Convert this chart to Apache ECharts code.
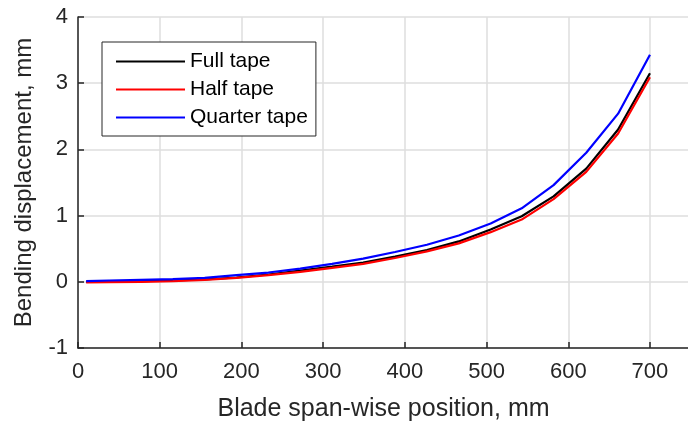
<!DOCTYPE html>
<html>
<head>
<meta charset="utf-8">
<script src="https://cdn.jsdelivr.net/npm/echarts@6/dist/echarts.min.js"></script>
<style>
  html, body { margin: 0; padding: 0; background: #fff; overflow: hidden; }
  /* a bit wider than the window so the axes run off the right edge */
  #chart { width: 720px; height: 427px; }
</style>
</head>
<body>
<div id="chart"></div>
<script>
  // span-wise positions (mm) and displacements (mm)
  var positions = [10, 38, 77, 116, 155, 194, 233, 272, 311, 349, 388, 427, 466, 505, 543, 582, 622, 661, 700]
  var fullTape = [0, 0.005, 0.01, 0.02, 0.035, 0.065, 0.11, 0.17, 0.23, 0.29, 0.38, 0.48, 0.61, 0.79, 0.99, 1.29, 1.71, 2.3, 3.15]
  var halfTape = [-0.01, -0.005, 0, 0.01, 0.03, 0.06, 0.1, 0.15, 0.21, 0.27, 0.36, 0.46, 0.58, 0.75, 0.94, 1.25, 1.66, 2.24, 3.09]
  var quarterTape = [0.01, 0.02, 0.03, 0.04, 0.06, 0.1, 0.14, 0.2, 0.27, 0.35, 0.45, 0.56, 0.7, 0.88, 1.11, 1.46, 1.95, 2.54, 3.43]
  var xTicks = [0, 100, 200, 300, 400, 500, 600, 700]
  var yTicks = [-1, 0, 1, 2, 3, 4]

  var font = '"Liberation Sans", Arial, Helvetica, sans-serif'
  var txt = '#262626'

  function pairs(vals) {
    return positions.map(function (p, i) { return [p, vals[i]] })
  }

  var chart = echarts.init(document.getElementById('chart'))
  chart.setOption({
    animation: false,
    textStyle: { fontFamily: font },
    grid: { left: 78, top: 17, width: 621, bottom: 79, containLabel: false },
    legend: {
      left: 102,
      top: 42,
      orient: 'vertical',
      padding: [9, 8, 8, 14],
      itemWidth: 69,
      itemHeight: 2,
      itemGap: 7,
      icon: 'rect',
      borderColor: txt,
      borderWidth: 1,
      backgroundColor: '#fff',
      textStyle: { fontSize: 21, color: '#000', fontFamily: font },
      data: ['Full tape', 'Half tape', 'Quarter tape']
    },
    xAxis: {
      type: 'value',
      min: 0,
      max: 760,
      interval: 100,
      name: 'Blade span-wise position, mm',
      nameLocation: 'middle',
      nameGap: 49,
      nameTextStyle: { fontSize: 25, color: txt, fontFamily: font, padding: [0, 10, 0, 0] },
      axisLine: { onZero: false, lineStyle: { color: txt, width: 1.5 } },
      axisTick: { inside: true, length: 6, lineStyle: { color: txt, width: 1.5 } },
      axisLabel: {
        fontSize: 22, color: txt, margin: 13,
        formatter: function (v) { return xTicks.indexOf(v) >= 0 ? String(v) : '' }
      },
      splitLine: { show: true, lineStyle: { color: '#dedede', width: 1.5 } }
    },
    yAxis: {
      type: 'value',
      min: -1,
      max: 4,
      interval: 1,
      name: 'Bending displacement, mm',
      nameLocation: 'middle',
      nameGap: 42,
      nameTextStyle: { fontSize: 24, color: txt, fontFamily: font },
      axisLine: { show: true, onZero: false, lineStyle: { color: txt, width: 1.5 } },
      axisTick: { show: true, inside: true, length: 6, lineStyle: { color: txt, width: 1.5 } },
      axisLabel: {
        fontSize: 22, color: txt, margin: 10,
        formatter: function (v) { return yTicks.indexOf(v) >= 0 ? String(v) : '' }
      },
      splitLine: { show: true, lineStyle: { color: '#dedede', width: 1.5 } }
    },
    series: [
      { name: 'Full tape', type: 'line', data: pairs(fullTape), showSymbol: false, symbol: 'none', color: '#000000', lineStyle: { width: 2.2 } },
      { name: 'Half tape', type: 'line', data: pairs(halfTape), showSymbol: false, symbol: 'none', color: '#ff0000', lineStyle: { width: 2.2 } },
      { name: 'Quarter tape', type: 'line', data: pairs(quarterTape), showSymbol: false, symbol: 'none', color: '#0000ff', lineStyle: { width: 2.2 } }
    ]
  })
</script>
</body>
</html>
